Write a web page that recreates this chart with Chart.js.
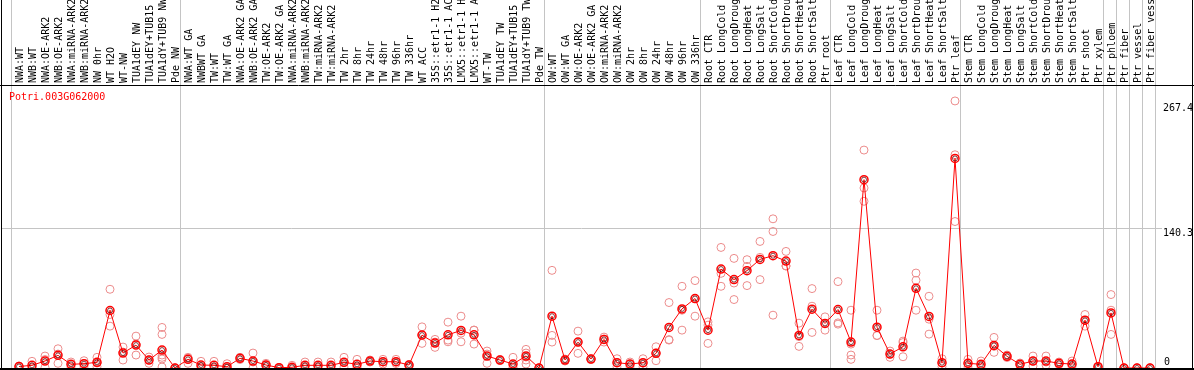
<!DOCTYPE html>
<html>
<head>
<meta charset="utf-8">
<script src="https://cdn.jsdelivr.net/npm/chart.js@4.4.1/dist/chart.umd.min.js"></script>
<style>
html,body{margin:0;padding:0;background:#fff;overflow:hidden;}
canvas{display:block;}
</style>
</head>
<body>
<canvas id="c" width="1194" height="370"></canvas>
<script>
const geneName = "Potri.003G062000";

const categories = [
 "NWA:WT","NWB:WT","NWA:OE-ARK2","NWB:OE-ARK2","NWA:miRNA-ARK2","NWB:miRNA-ARK2","NW 0hr","WT H2O","WT-NW","TUA1dEY NW","TUA1dEY+TUB15","TUA1dY+TUB9 NW","Pde NW",
 "NWA:WT GA","NWBWT GA","TW:WT","TW:WT GA","NWA:OE-ARK2 GA","NWB:OE-ARK2 GA","TW:OE-ARK2","TW:OE-ARK2 GA","NWA:miRNA-ARK2","NWB:miRNA-ARK2","TW:miRNA-ARK2","TW:miRNA-ARK2",
 "TW 2hr","TW 8hr","TW 24hr","TW 48hr","TW 96hr","TW 336hr","WT ACC","35S::etr1-1 H2","35S::etr1-1 AC","LMX5::etr1-1 H","LMX5::etr1-1 A","WT-TW","TUA1dEY TW","TUA1dEY+TUB15","TUA1dY+TUB9 TW","Pde TW",
 "OW:WT","OW:WT GA","OW:OE-ARK2","OW:OE-ARK2 GA","OW:miRNA-ARK2","OW:miRNA-ARK2","OW 2hr","OW 8hr","OW 24hr","OW 48hr","OW 96hr","OW 336hr",
 "Root CTR","Root LongCold","Root LongDroug","Root LongHeat","Root LongSalt","Root ShortCold","Root ShortDrou","Root ShortHeat","Root ShortSalt","Ptr root",
 "Leaf CTR","Leaf LongCold","Leaf LongDroug","Leaf LongHeat","Leaf LongSalt","Leaf ShortCold","Leaf ShortDrou","Leaf ShortHeat","Leaf ShortSalt","Ptr leaf",
 "Stem CTR","Stem LongCold","Stem LongDroug","Stem LongHeat","Stem LongSalt","Stem ShortCold","Stem ShortDrou","Stem ShortHeat","Stem ShortSalt","Ptr shoot",
 "Ptr xylem","Ptr phloem","Ptr fiber","Ptr vessel","Ptr fiber vess"
];

const means = [
 1.5,2.7,7,12.7,3.7,4.3,5.7,57.7,15,23,8,18,0,
 8.7,3,2.7,1.3,9.7,7,3,0.3,0.7,2.7,2.7,2.7,5.7,3.7,7,6.3,6.3,3,33,25,33.3,37.7,33.3,12,8,4,12,0,
 52,8,26,9,28.7,5.3,4,5.3,14.7,40.7,59.3,69.7,
 38,99.3,88.7,97.7,109,112.7,107.3,32.7,59,44.7,
 58.7,26,189,41,14,21.3,80,51.7,5.3,210.3,
 4.7,3.7,22.7,11.7,3.7,7,7,4.7,4,48,
 1.3,55.3,0,0,0
];

const replicates = [
 [1,2,1.5],[6.7,1,0.5],[12,8.5,0.5],[19.3,14,4.7],[3.7,6,1],[7.3,4.5,1],[10.7,5,1.3],[79,53.7,42],[21,16,8],[32,24,13],[11,8,4.7],[40.7,33.7,13,10.7,1,9],[0,0,0],
 [10.7,10,4.7],[6.7,1.5,1],[6.7,1,0.5],[4.3,0,0],[10.7,10,8.5],[15,6,0],[4.7,3,1.5],[0.5,0.3,0],[2.7,0,0],[6,1.5,0.5],[6,1.5,0.5],[6,1.5,0.5],
 [10.7,5.5,1],[8.7,2,0.5],[8,7,6],[8.7,6,4],[8.7,6,4.5],[3.5,3,1.5],[41.3,33,24.7],[28.7,26,20.7],[46,28,26.3],[52,35,26.3],[38,38,24],[17,14,4.7],[8.5,8,7.5],[10.7,1,0],[18.7,15,11,8,4],[0,0,0],
 [98,32.7,26],[9,8,7],[37,26,14.7],[9.3,9,8.5],[31,29,26],[9.3,5.3,1.3],[6,4,1.3],[9.3,5,1.3],[21.3,15,7.3],[65.7,28,28.5],[82,58,38],[87.7,69.5,52],
 [46.3,43,24.7],[121,95,82],[110,85.3,68.7],[108.7,102,82.7],[127,111,88.7],[149.7,137,53],[117,102.3,102.5],[45,31.5,21.7],[79.7,62,35.7],[51.3,44.7,38],
 [86.7,45.3,44],[58,24,13,8.7],[218.7,180.7,167.3],[58,32.5,32.7],[17,14,10.7],[27,25.5,11.3],[95.3,88,58],[72,49,34],[9.3,5,1.5],[268,214,147],
 [8.7,4.5,1],[7,3,1],[30.7,21.7,15.7],[13,11.7,10.5],[5,3.7,2.5],[12,7,2],[12,6,3],[6,4.7,3.5],[7,3.5,1.5],[53.7,48,42],
 [1.5,1.3,1],[73.7,58,33.7],[0,0,0],[0,0,0],[0,0,0]
];

const yTickValues = [0, 140.3, 267.4];
const yTickLabels = ["0", "140.3", "267.4"];
// group separators: index of first category after each separator
const separators = [0, 13, 41, 53, 63, 73, 84, 85, 86, 87, 88];

const FONT = '10px "DejaVu Sans Mono", monospace';

const meanPts = means.map((v, i) => ({x: i, y: v}));
const repPts = [];
replicates.forEach((arr, i) => arr.forEach(v => repPts.push({x: i, y: v})));

const decor = {
  id: 'decor',
  beforeDatasetsDraw(chart) {
    const ctx = chart.ctx, xs = chart.scales.x, area = chart.chartArea;
    ctx.save();
    ctx.strokeStyle = '#c4c4c4';
    ctx.lineWidth = 1;
    separators.forEach(k => {
      const px = Math.round(xs.getPixelForValue(k - 8 / 13)) + 0.5;
      ctx.beginPath();
      ctx.moveTo(px, 0);
      ctx.lineTo(px, area.bottom);
      ctx.stroke();
    });
    ctx.restore();
  },
  afterDraw(chart) {
    const ctx = chart.ctx, xs = chart.scales.x, ys = chart.scales.y, area = chart.chartArea;
    const W = chart.width;
    ctx.save();
    // frame
    ctx.strokeStyle = '#000';
    ctx.lineWidth = 1;
    ctx.beginPath();
    ctx.moveTo(1.5, 0); ctx.lineTo(1.5, 370);
    ctx.moveTo(W - 1.5, 0); ctx.lineTo(W - 1.5, 370);
    ctx.moveTo(0, area.top + 0.5); ctx.lineTo(W, area.top + 0.5);
    ctx.stroke();
    ctx.lineWidth = 2;
    ctx.beginPath();
    ctx.moveTo(0, area.bottom + 1); ctx.lineTo(W, area.bottom + 1);
    ctx.stroke();
    // category labels (rotated)
    ctx.fillStyle = '#000';
    ctx.font = FONT;
    ctx.textAlign = 'left';
    ctx.textBaseline = 'middle';
    categories.forEach((lab, i) => {
      const px = xs.getPixelForValue(i) + 1;
      ctx.save();
      ctx.translate(px, area.top - 2);
      ctx.rotate(-Math.PI / 2);
      ctx.fillText(lab, 0, 0);
      ctx.restore();
    });
    // y tick labels
    ctx.textAlign = 'left';
    yTickValues.forEach((v, i) => {
      const py = ys.getPixelForValue(v);
      if (v === 0) {
        ctx.textBaseline = 'bottom';
        ctx.fillText(yTickLabels[i], area.right + 2, py - 1);
      } else {
        ctx.textBaseline = 'top';
        ctx.fillText(yTickLabels[i], area.right + 1, py + (v > 200 ? 2 : 0));
      }
    });
    // gene name
    ctx.fillStyle = '#ff0000';
    ctx.textBaseline = 'alphabetic';
    ctx.fillText(geneName, 9, 100);
    ctx.restore();
  }
};

new Chart(document.getElementById('c'), {
  type: 'scatter',
  data: {
    datasets: [
      {
        label: 'replicates', data: repPts, order: 3, showLine: false, clip: false,
        pointStyle: 'circle', pointRadius: 4, pointBorderWidth: 1,
        pointBorderColor: 'rgb(236,140,140)', pointBackgroundColor: 'rgba(0,0,0,0)'
      },
      {
        label: 'mean', data: meanPts, order: 2, showLine: true, clip: false,
        borderColor: '#ff0000', borderWidth: 1, tension: 0,
        pointStyle: 'circle', pointRadius: 4, pointBorderWidth: 1.5,
        pointBorderColor: '#ff0000', pointBackgroundColor: 'rgba(0,0,0,0)'
      },
      {
        label: 'mean-inner', data: meanPts, order: 1, showLine: false, clip: false,
        pointStyle: 'circle', pointRadius: 2.5, pointBorderWidth: 1,
        pointBorderColor: 'rgba(90,0,0,0.75)', pointBackgroundColor: 'rgba(0,0,0,0)'
      }
    ]
  },
  options: {
    responsive: false,
    animation: false,
    devicePixelRatio: 1,
    layout: {autoPadding: false, padding: {left: 1, right: 0, top: 0, bottom: 2}},
    plugins: {legend: {display: false}, tooltip: {enabled: false}},
    scales: {
      x: {
        type: 'linear', position: 'top',
        min: -18 / 13, max: -18 / 13 + 1161 / 13,
        ticks: {display: false}, grid: {display: false}, border: {display: false},
        afterFit: s => { s.height = 85; }
      },
      y: {
        type: 'linear', position: 'right', min: 0, max: 284,
        afterBuildTicks: s => { s.ticks = yTickValues.map(v => ({value: v})); },
        ticks: {display: false},
        grid: {drawTicks: false, lineWidth: 1,
               color: c => (c.tick && c.tick.value === 140.3) ? '#c4c4c4' : 'rgba(0,0,0,0)'},
        border: {display: false},
        afterFit: s => { s.width = 32; }
      }
    }
  },
  plugins: [decor]
});
</script>
</body>
</html>
